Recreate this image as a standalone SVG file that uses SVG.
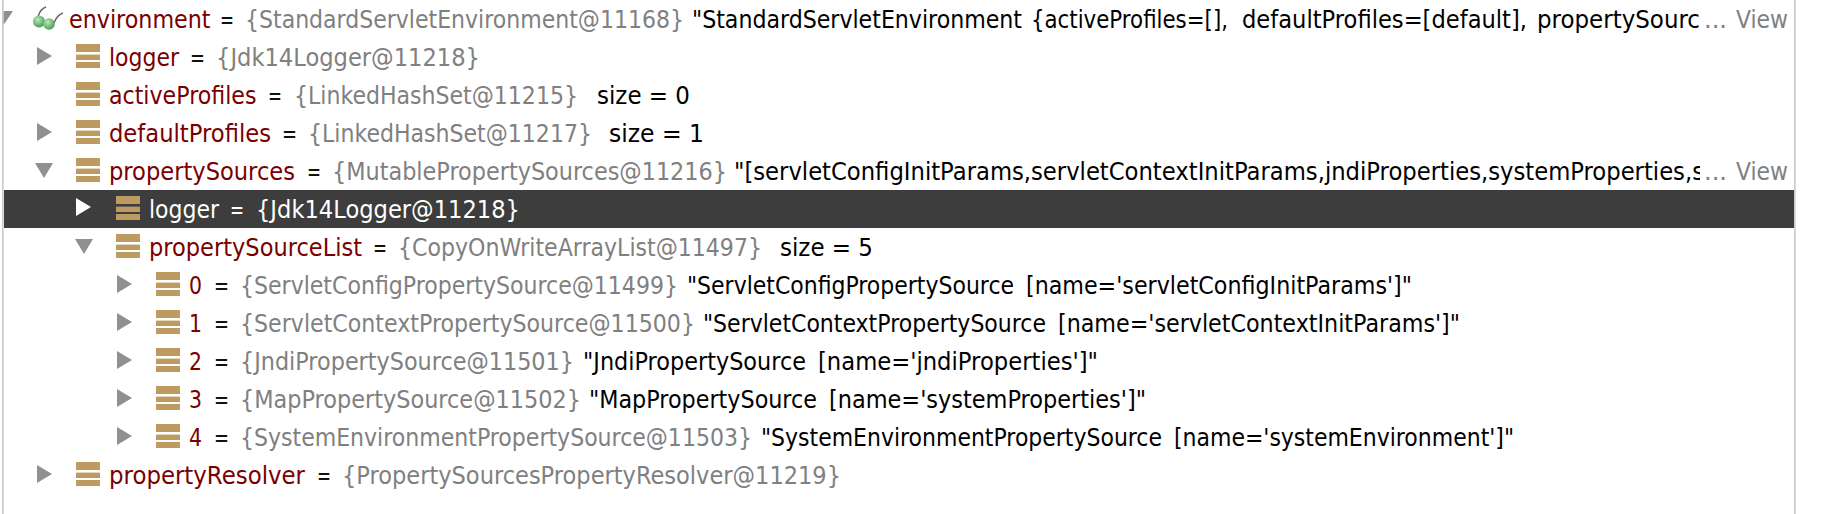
<svg xmlns="http://www.w3.org/2000/svg" width="1822" height="514" viewBox="0 0 1822 514">
<style>
text{font-family:"DejaVu Sans","Liberation Sans",sans-serif;font-size:22.2px}
.n{fill:#7a0000}.e{fill:#111}.t{fill:#808080}.v{fill:#000}.w{fill:#fff}
.b{fill:#c9c9c9}.a{fill:#909090}
</style>
<defs>
<g id="ic"><rect width="24" height="8" y="0" fill="#bd9a60"/><rect width="24" height="5.4" y="10.6" fill="#bd9a60"/><rect width="24" height="6" y="18" fill="#bd9a60"/></g>
<path id="tr" d="M0 0L15 9L0 18Z"/>
<path id="td" d="M0 0H18L9 15Z"/>
<clipPath id="c1"><rect x="600" y="-40" width="1100" height="80"/></clipPath>
<radialGradient id="gl" cx="0.4" cy="0.35" r="0.7"><stop offset="0" stop-color="#c4e2bc"/><stop offset="1" stop-color="#3a9c4e"/></radialGradient>
</defs>
<rect width="1822" height="514" fill="#fff"/>
<rect x="2" y="0" width="1.6" height="514" class="b"/>
<rect x="1794" y="0" width="1.6" height="514" class="b"/>

<g id="row-environment">
<path d="M3.600 11H13L3.600 25Z" class="a"/>
<path d="M38 17Q40 9 46 7M54 23Q57 15 63 13" fill="none" stroke="#666" stroke-width="1.500"/>
<circle cx="39" cy="21.500" r="6" fill="url(#gl)"/><circle cx="49" cy="24" r="5.800" fill="url(#gl)"/>
<g transform="translate(0,28) scale(1,1.11)">
<text x="69" textLength="141.500" lengthAdjust="spacingAndGlyphs" class="n">environment</text>
<text x="220" textLength="14" lengthAdjust="spacingAndGlyphs" class="e">=</text>
<text x="245" textLength="439" lengthAdjust="spacingAndGlyphs" class="t">{StandardServletEnvironment@11168}</text>
<text class="v"><tspan x="692" textLength="330" lengthAdjust="spacingAndGlyphs">"StandardServletEnvironment</tspan> <tspan x="1031" textLength="197" lengthAdjust="spacingAndGlyphs">{activeProfiles=[],</tspan> <tspan x="1242" textLength="285" lengthAdjust="spacingAndGlyphs">defaultProfiles=[default],</tspan> <tspan x="1537" textLength="163" lengthAdjust="spacingAndGlyphs">propertySourc</tspan></text>
<text x="1704" textLength="23" lengthAdjust="spacingAndGlyphs" class="t">...</text>
<text x="1736" textLength="52" lengthAdjust="spacingAndGlyphs" class="t">View</text>
</g>
</g>

<g id="row-logger">
<use href="#tr" x="37" y="47" class="a"/><use href="#ic" x="76" y="44"/>
<g transform="translate(0,66) scale(1,1.11)">
<text x="109" textLength="70" lengthAdjust="spacingAndGlyphs" class="n">logger</text>
<text x="190" textLength="15" lengthAdjust="spacingAndGlyphs" class="e">=</text>
<text x="216" textLength="264" lengthAdjust="spacingAndGlyphs" class="t">{Jdk14Logger@11218}</text>
</g>
</g>

<g id="row-activeProfiles">
<use href="#ic" x="76" y="82"/>
<g transform="translate(0,104) scale(1,1.11)">
<text x="109" textLength="147.500" lengthAdjust="spacingAndGlyphs" class="n">activeProfiles</text>
<text x="268" textLength="14" lengthAdjust="spacingAndGlyphs" class="e">=</text>
<text x="294" textLength="284" lengthAdjust="spacingAndGlyphs" class="t">{LinkedHashSet@11215}</text>
<text x="597" textLength="93" lengthAdjust="spacingAndGlyphs" class="v">size = 0</text>
</g>
</g>

<g id="row-defaultProfiles">
<use href="#tr" x="37" y="123" class="a"/><use href="#ic" x="76" y="120"/>
<g transform="translate(0,142) scale(1,1.11)">
<text x="109" textLength="162" lengthAdjust="spacingAndGlyphs" class="n">defaultProfiles</text>
<text x="282" textLength="15" lengthAdjust="spacingAndGlyphs" class="e">=</text>
<text x="308" textLength="284" lengthAdjust="spacingAndGlyphs" class="t">{LinkedHashSet@11217}</text>
<text x="609" textLength="95" lengthAdjust="spacingAndGlyphs" class="v">size = 1</text>
</g>
</g>

<g id="row-propertySources">
<use href="#td" x="35" y="163" class="a"/><use href="#ic" x="76" y="158"/>
<g transform="translate(0,180) scale(1,1.11)">
<text x="109" textLength="186" lengthAdjust="spacingAndGlyphs" class="n">propertySources</text>
<text x="307" textLength="14" lengthAdjust="spacingAndGlyphs" class="e">=</text>
<text x="332" textLength="395" lengthAdjust="spacingAndGlyphs" class="t">{MutablePropertySources@11216}</text>
<g clip-path="url(#c1)"><text x="734" textLength="970" lengthAdjust="spacingAndGlyphs" class="v">"[servletConfigInitParams,servletContextInitParams,jndiProperties,systemProperties,s</text></g>
<text x="1704" textLength="23" lengthAdjust="spacingAndGlyphs" class="t">...</text>
<text x="1736" textLength="52" lengthAdjust="spacingAndGlyphs" class="t">View</text>
</g>
</g>

<g id="row-logger-selected">
<rect x="4" y="190" width="1790" height="38" fill="#3d3d3d"/>
<use href="#tr" x="76" y="198" fill="#fff"/><use href="#ic" x="116" y="196"/>
<g transform="translate(0,218) scale(1,1.11)">
<text x="149" textLength="70" lengthAdjust="spacingAndGlyphs" class="w">logger</text>
<text x="230" textLength="14" lengthAdjust="spacingAndGlyphs" class="w">=</text>
<text x="256" textLength="264" lengthAdjust="spacingAndGlyphs" class="w">{Jdk14Logger@11218}</text>
</g>
</g>

<g id="row-propertySourceList">
<use href="#td" x="75" y="239" class="a"/><use href="#ic" x="116" y="234"/>
<g transform="translate(0,256) scale(1,1.11)">
<text x="149" textLength="213" lengthAdjust="spacingAndGlyphs" class="n">propertySourceList</text>
<text x="373" textLength="14" lengthAdjust="spacingAndGlyphs" class="e">=</text>
<text x="398" textLength="364" lengthAdjust="spacingAndGlyphs" class="t">{CopyOnWriteArrayList@11497}</text>
<text x="780" textLength="93" lengthAdjust="spacingAndGlyphs" class="v">size = 5</text>
</g>
</g>

<g id="row-source-0">
<use href="#tr" x="117" y="275" class="a"/><use href="#ic" x="156" y="272"/>
<g transform="translate(0,294) scale(1,1.11)">
<text x="189" textLength="13" lengthAdjust="spacingAndGlyphs" class="n">0</text>
<text x="214" textLength="15" lengthAdjust="spacingAndGlyphs" class="e">=</text>
<text x="240" textLength="438" lengthAdjust="spacingAndGlyphs" class="t">{ServletConfigPropertySource@11499}</text>
<text class="v"><tspan x="687" textLength="327" lengthAdjust="spacingAndGlyphs">"ServletConfigPropertySource</tspan> <tspan x="1026" textLength="386" lengthAdjust="spacingAndGlyphs">[name='servletConfigInitParams']"</tspan></text>
</g>
</g>

<g id="row-source-1">
<use href="#tr" x="117" y="313" class="a"/><use href="#ic" x="156" y="310"/>
<g transform="translate(0,332) scale(1,1.11)">
<text x="189" textLength="13" lengthAdjust="spacingAndGlyphs" class="n">1</text>
<text x="214" textLength="15" lengthAdjust="spacingAndGlyphs" class="e">=</text>
<text x="240" textLength="455" lengthAdjust="spacingAndGlyphs" class="t">{ServletContextPropertySource@11500}</text>
<text class="v"><tspan x="703" textLength="343" lengthAdjust="spacingAndGlyphs">"ServletContextPropertySource</tspan> <tspan x="1058" textLength="402" lengthAdjust="spacingAndGlyphs">[name='servletContextInitParams']"</tspan></text>
</g>
</g>

<g id="row-source-2">
<use href="#tr" x="117" y="351" class="a"/><use href="#ic" x="156" y="348"/>
<g transform="translate(0,370) scale(1,1.11)">
<text x="189" textLength="13" lengthAdjust="spacingAndGlyphs" class="n">2</text>
<text x="214" textLength="15" lengthAdjust="spacingAndGlyphs" class="e">=</text>
<text x="240" textLength="334" lengthAdjust="spacingAndGlyphs" class="t">{JndiPropertySource@11501}</text>
<text class="v"><tspan x="583" textLength="223" lengthAdjust="spacingAndGlyphs">"JndiPropertySource</tspan> <tspan x="818" textLength="280" lengthAdjust="spacingAndGlyphs">[name='jndiProperties']"</tspan></text>
</g>
</g>

<g id="row-source-3">
<use href="#tr" x="117" y="389" class="a"/><use href="#ic" x="156" y="386"/>
<g transform="translate(0,408) scale(1,1.11)">
<text x="189" textLength="13" lengthAdjust="spacingAndGlyphs" class="n">3</text>
<text x="214" textLength="15" lengthAdjust="spacingAndGlyphs" class="e">=</text>
<text x="240" textLength="341" lengthAdjust="spacingAndGlyphs" class="t">{MapPropertySource@11502}</text>
<text class="v"><tspan x="589" textLength="228" lengthAdjust="spacingAndGlyphs">"MapPropertySource</tspan> <tspan x="829" textLength="317" lengthAdjust="spacingAndGlyphs">[name='systemProperties']"</tspan></text>
</g>
</g>

<g id="row-source-4">
<use href="#tr" x="117" y="427" class="a"/><use href="#ic" x="156" y="424"/>
<g transform="translate(0,446) scale(1,1.11)">
<text x="189" textLength="13" lengthAdjust="spacingAndGlyphs" class="n">4</text>
<text x="214" textLength="15" lengthAdjust="spacingAndGlyphs" class="e">=</text>
<text x="240" textLength="512" lengthAdjust="spacingAndGlyphs" class="t">{SystemEnvironmentPropertySource@11503}</text>
<text class="v"><tspan x="761" textLength="401" lengthAdjust="spacingAndGlyphs">"SystemEnvironmentPropertySource</tspan> <tspan x="1174" textLength="340" lengthAdjust="spacingAndGlyphs">[name='systemEnvironment']"</tspan></text>
</g>
</g>

<g id="row-propertyResolver">
<use href="#tr" x="37" y="465" class="a"/><use href="#ic" x="76" y="462"/>
<g transform="translate(0,484) scale(1,1.11)">
<text x="109" textLength="196" lengthAdjust="spacingAndGlyphs" class="n">propertyResolver</text>
<text x="317" textLength="14" lengthAdjust="spacingAndGlyphs" class="e">=</text>
<text x="342" textLength="499" lengthAdjust="spacingAndGlyphs" class="t">{PropertySourcesPropertyResolver@11219}</text>
</g>
</g>
</svg>
